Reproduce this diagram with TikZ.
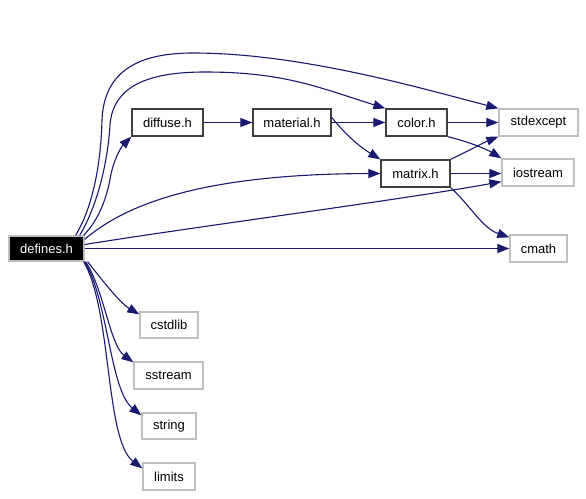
\documentclass[tikz,border=0pt]{standalone}
\usepackage{fontspec}
\setmainfont{Liberation Sans}
\usetikzlibrary{arrows.meta}
\definecolor{edgecol}{HTML}{191970}
\definecolor{intbord}{HTML}{404040}
\definecolor{extbord}{HTML}{BFBFBF}
\begin{document}
\begin{tikzpicture}[x=1pt,y=-1pt,
  box/.style={rectangle,draw=intbord,line width=1.3pt,inner sep=0pt,minimum height=27pt,font=\fontsize{13}{15}\selectfont,text=black,fill=white},
  extbox/.style={box,draw=extbord},
  rootbox/.style={box,draw=extbord,fill=black,text=white,minimum height=25pt},
  dep/.style={draw=edgecol,line width=1.1pt,-{Triangle[length=12pt,width=9pt]}}]
\useasboundingbox (0,0) rectangle (586,498);
\node[rootbox,minimum width=75pt] (defines) at (46.5,248.5) {defines.h};
\node[box,minimum width=71pt] (diffuse) at (167.5,122.5) {diffuse.h};
\node[box,minimum width=78pt] (material) at (292,122.5) {material.h};
\node[box,minimum width=61pt] (color) at (416.5,122.5) {color.h};
\node[extbox,minimum width=79pt] (stdexcept) at (538.5,122.5) {stdexcept};
\node[box,minimum width=69pt] (matrix) at (415.5,173.5) {matrix.h};
\node[extbox,minimum width=72pt] (iostream) at (538,172.5) {iostream};
\node[extbox,minimum width=57pt] (cmath) at (538.5,248.5) {cmath};
\node[extbox,minimum width=58pt,minimum height=26pt] (cstdlib) at (169,325) {cstdlib};
\node[extbox,minimum width=69pt] (sstream) at (168.5,375.5) {sstream};
\node[extbox,minimum width=54pt,minimum height=26pt] (string) at (169,426) {string};
\node[extbox,minimum width=52pt] (limits) at (169,476.5) {limits};

% from defines.h
\draw[dep] ([xshift=-1pt]defines.north east) .. controls (108,210) and (110,175) .. (112,170)
  .. controls (116,155) and (122,146) .. (diffuse.south west);
\draw[dep] ([xshift=-5pt]defines.north east) .. controls (98,205) and (108,160) .. (110,125)
  .. controls (113,85) and (150,72) .. (205,72)
  .. controls (285,72) and (320,88) .. (color.north west);
\draw[dep] ([xshift=-9pt]defines.north east) .. controls (94,205) and (101,160) .. (102,120)
  .. controls (104,70) and (140,53) .. (193,53)
  .. controls (300,53) and (420,88) .. (stdexcept.north west);
\draw[dep] ([yshift=-4pt]defines.north east) .. controls (125,205) and (200,174) .. (matrix.west);
\draw[dep] ([yshift=4pt]defines.east) .. controls (200,226) and (400,200) .. ([yshift=5pt]iostream.south west);
\draw[dep] (defines.east) -- (cmath.west);
\draw[dep] ([xshift=3pt]defines.south east) .. controls (102,280) and (120,303) .. ([yshift=-3pt]cstdlib.north west);
\draw[dep] ([xshift=1pt]defines.south east) .. controls (104,290) and (110,345) .. ([yshift=-1pt]sstream.north west);
\draw[dep] (defines.south east) .. controls (108,300) and (110,390) .. ([yshift=-3pt]string.north west);
\draw[dep] ([xshift=-1pt]defines.south east) .. controls (112,310) and (105,440) .. ([yshift=-6pt]limits.north west);

% internal
\draw[dep] (diffuse.east) -- (material.west);
\draw[dep] (material.east) -- (color.west);
\draw[dep] ([yshift=-9pt]material.north east) .. controls (350,140) and (365,150) .. (matrix.north west);
\draw[dep] (color.east) -- (stdexcept.west);
\draw[dep] (color.south east) .. controls (470,142) and (488,150) .. (iostream.north west);
\draw[dep] (matrix.north east) .. controls (470,150) and (485,142) .. (stdexcept.south west);
\draw[dep] (matrix.east) -- (matrix.east -| iostream.west);
\draw[dep] (matrix.south east) .. controls (470,205) and (482,228) .. ([yshift=-3pt]cmath.north west);
\end{tikzpicture}
\end{document}
